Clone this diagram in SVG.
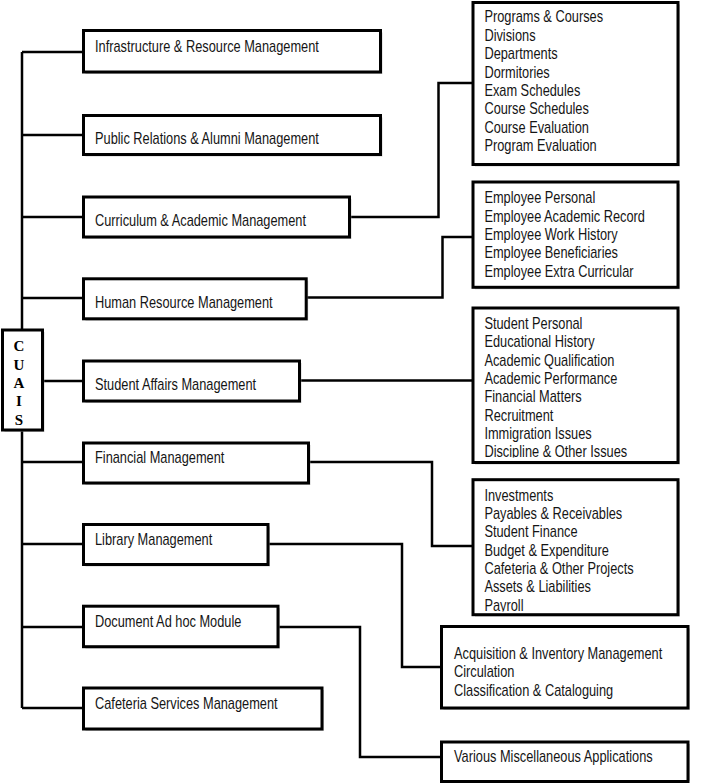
<svg xmlns="http://www.w3.org/2000/svg" width="713" height="783" viewBox="0 0 713 783">
<style>
.bx{fill:#fff;stroke:#000;stroke-width:3}
.sh{fill:#aaa;opacity:0.55}
.t{font-family:"Liberation Sans",Arial,sans-serif;font-size:16px;fill:#151515}
.c{fill:none;stroke:#000;stroke-width:2.5;stroke-linejoin:miter}
.lt{font-family:"Liberation Serif","Times New Roman",serif;font-size:15px;font-weight:bold;fill:#000;text-anchor:middle}
</style>
<defs>
<clipPath id="clipR3"><rect x="474" y="309" width="203" height="148.5"/></clipPath>
<clipPath id="clipR4"><rect x="474" y="481" width="203" height="130.5"/></clipPath>
</defs>
<rect width="713" height="783" fill="#fff"/>

<g id="connectors">
<path class="c" d="M22 52 V708"/>
<path class="c" d="M22 52 H83.5 M22 135 H83.5 M22 217 H83.5 M22 298 H83.5 M42 381 H83.5 M22 462 H83.5 M22 544 H83.5 M22 627 H83.5 M22 708 H83.5"/>
<path class="c" d="M349.5 217 H438.5 V83 H473"/>
<path class="c" d="M306 297.5 H442.5 V237 H473"/>
<path class="c" d="M299.5 380.5 H473"/>
<path class="c" d="M309 462 H432 V546 H473"/>
<path class="c" d="M268 544 H402 V667 H441.5"/>
<path class="c" d="M278 627 H360 V757 H441.5"/>
</g>

<g id="cuais">
<rect class="sh" x="4.5" y="332" width="40" height="100"/>
<rect class="bx" x="2.5" y="330" width="40" height="100"/>
<text class="lt" x="19" y="351">C</text>
<text class="lt" x="19" y="369.5">U</text>
<text class="lt" x="19" y="388">A</text>
<text class="lt" x="19" y="406">I</text>
<text class="lt" x="19" y="424.5">S</text>
</g>

<g id="infrastructure">
<rect class="sh" x="85.5" y="32.5" width="297" height="41.5"/>
<rect class="bx" x="83.5" y="30.5" width="297" height="41.5"/>
<text class="t" transform="scale(0.8 1)" x="118.75" y="51.7">Infrastructure &amp; Resource Management</text>
</g>

<g id="public-relations">
<rect class="sh" x="85.5" y="117.5" width="297" height="39"/>
<rect class="bx" x="83.5" y="115.5" width="297" height="39"/>
<text class="t" transform="scale(0.8 1)" x="118.75" y="144">Public Relations &amp; Alumni Management</text>
</g>

<g id="curriculum">
<rect class="sh" x="85.5" y="199" width="266" height="40"/>
<rect class="bx" x="83.5" y="197" width="266" height="40"/>
<text class="t" transform="scale(0.8 1)" x="118.75" y="226.5">Curriculum &amp; Academic Management</text>
</g>

<g id="human-resource">
<rect class="sh" x="85.5" y="280.8" width="222.7" height="40"/>
<rect class="bx" x="83.5" y="278.8" width="222.7" height="40"/>
<text class="t" transform="scale(0.8 1)" x="118.75" y="308.5">Human Resource Management</text>
</g>

<g id="student-affairs">
<rect class="sh" x="85.5" y="363" width="216" height="40"/>
<rect class="bx" x="83.5" y="361" width="216" height="40"/>
<text class="t" transform="scale(0.8 1)" x="118.75" y="390">Student Affairs Management</text>
</g>

<g id="financial">
<rect class="sh" x="85.5" y="445" width="225" height="40"/>
<rect class="bx" x="83.5" y="443" width="225" height="40"/>
<text class="t" transform="scale(0.8 1)" x="118.75" y="463.5">Financial Management</text>
</g>

<g id="library">
<rect class="sh" x="85.5" y="526.5" width="184.5" height="40"/>
<rect class="bx" x="83.5" y="524.5" width="184.5" height="40"/>
<text class="t" transform="scale(0.8 1)" x="118.75" y="545.5">Library Management</text>
</g>

<g id="document">
<rect class="sh" x="85.5" y="608.2" width="194.5" height="40.5"/>
<rect class="bx" x="83.5" y="606.2" width="194.5" height="40.5"/>
<text class="t" transform="scale(0.8 1)" x="118.75" y="627.5">Document Ad hoc Module</text>
</g>

<g id="cafeteria">
<rect class="sh" x="85.5" y="690" width="238.5" height="41"/>
<rect class="bx" x="83.5" y="688" width="238.5" height="41"/>
<text class="t" transform="scale(0.8 1)" x="118.75" y="709">Cafeteria Services Management</text>
</g>

<g id="curriculum-details">
<rect class="sh" x="475" y="4.5" width="205" height="162"/>
<rect class="bx" x="473" y="2.5" width="205" height="162"/>
<text class="t" transform="scale(0.8 1)">
<tspan x="605.5" y="22.5">Programs &amp; Courses</tspan>
<tspan x="605.5" y="40.85">Divisions</tspan>
<tspan x="605.5" y="59.2">Departments</tspan>
<tspan x="605.5" y="77.55">Dormitories</tspan>
<tspan x="605.5" y="95.9">Exam Schedules</tspan>
<tspan x="605.5" y="114.25">Course Schedules</tspan>
<tspan x="605.5" y="132.6">Course Evaluation</tspan>
<tspan x="605.5" y="150.95">Program Evaluation</tspan>
</text>
</g>

<g id="employee-details">
<rect class="sh" x="475" y="184" width="205" height="105.3"/>
<rect class="bx" x="473" y="182" width="205" height="105.3"/>
<text class="t" transform="scale(0.8 1)">
<tspan x="605.5" y="203.3">Employee Personal</tspan>
<tspan x="605.5" y="221.6">Employee Academic Record</tspan>
<tspan x="605.5" y="240">Employee Work History</tspan>
<tspan x="605.5" y="258.3">Employee Beneficiaries</tspan>
<tspan x="605.5" y="276.6">Employee Extra Curricular</tspan>
</text>
</g>

<g id="student-details">
<rect class="sh" x="475" y="310" width="205" height="154.5"/>
<rect class="bx" x="473" y="308" width="205" height="154.5"/>
<g clip-path="url(#clipR3)">
<text class="t" transform="scale(0.8 1)">
<tspan x="605.5" y="329">Student Personal</tspan>
<tspan x="605.5" y="347.3">Educational History</tspan>
<tspan x="605.5" y="365.6">Academic Qualification</tspan>
<tspan x="605.5" y="384">Academic Performance</tspan>
<tspan x="605.5" y="402.3">Financial Matters</tspan>
<tspan x="605.5" y="420.6">Recruitment</tspan>
<tspan x="605.5" y="439">Immigration Issues</tspan>
<tspan x="605.5" y="457.3">Discipline &amp; Other Issues</tspan>
</text>
</g>
</g>

<g id="financial-details">
<rect class="sh" x="475" y="481.7" width="205" height="135"/>
<rect class="bx" x="473" y="479.7" width="205" height="135"/>
<g clip-path="url(#clipR4)">
<text class="t" transform="scale(0.8 1)">
<tspan x="605.5" y="500.7">Investments</tspan>
<tspan x="605.5" y="519">Payables &amp; Receivables</tspan>
<tspan x="605.5" y="537.4">Student Finance</tspan>
<tspan x="605.5" y="555.7">Budget &amp; Expenditure</tspan>
<tspan x="605.5" y="574">Cafeteria &amp; Other Projects</tspan>
<tspan x="605.5" y="592.4">Assets &amp; Liabilities</tspan>
<tspan x="605.5" y="610.7">Payroll</tspan>
</text>
</g>
</g>

<g id="library-details">
<rect class="sh" x="443.5" y="628.5" width="246.5" height="81.5"/>
<rect class="bx" x="441.5" y="626.5" width="246.5" height="81.5"/>
<text class="t" transform="scale(0.8 1)">
<tspan x="567.5" y="659">Acquisition &amp; Inventory Management</tspan>
<tspan x="567.5" y="677.3">Circulation</tspan>
<tspan x="567.5" y="695.6">Classification &amp; Cataloguing</tspan>
</text>
</g>

<g id="misc-details">
<rect class="sh" x="443.5" y="744" width="246.5" height="37"/>
<rect class="bx" x="441.5" y="742" width="246.5" height="39.5"/>
<text class="t" transform="scale(0.8 1)" x="567.5" y="761.7">Various Miscellaneous Applications</text>
</g>
</svg>
